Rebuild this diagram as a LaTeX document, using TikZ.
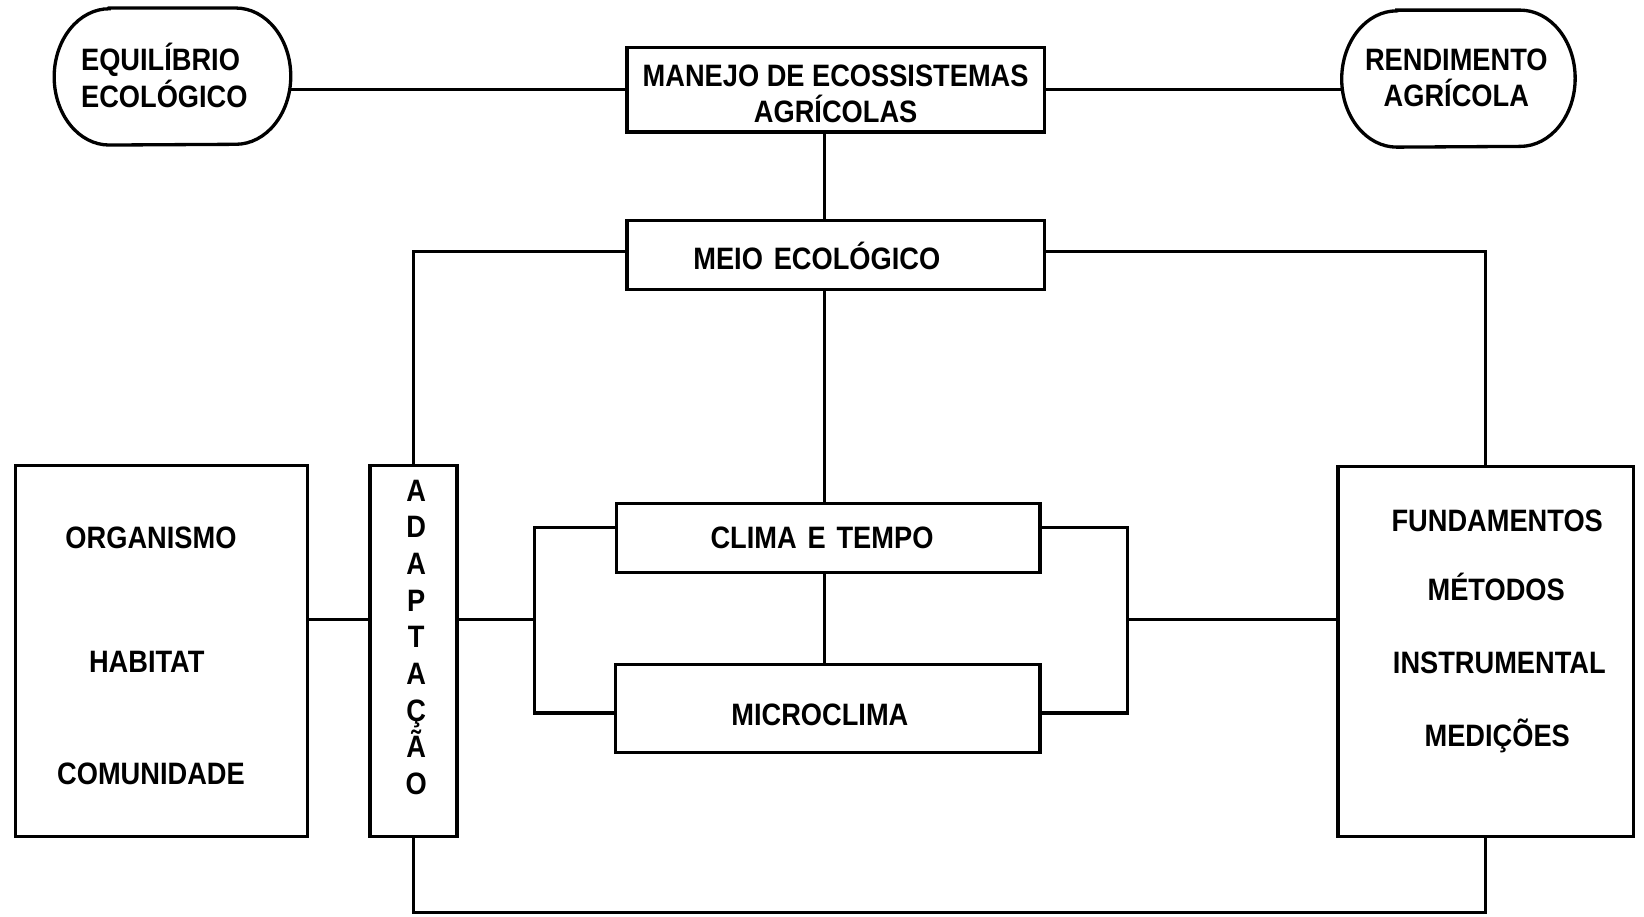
\documentclass[tikz,border=0pt]{standalone}
\usepackage{fontspec}
\newfontfamily\lettering{Liberation Sans}[FakeStretch=0.88]
\begin{document}
\begin{tikzpicture}[x=0.02cm,y=-0.02cm,
  every node/.style={font=\lettering\bfseries\fontsize{16.8}{20}\selectfont, inner sep=0pt},
  box/.style={draw, line width=1.8pt, rectangle},
  ovalbox/.style={rectangle},
  ovalline/.style={line width=1.8pt},
  txt/.style={align=center},
  conn/.style={line width=1.7pt}]
\useasboundingbox (0,0) rectangle (1568,874);

% boxes
\node[ovalbox, minimum width=4.5cm, minimum height=2.6cm] (eq) at (164.5,73) {};
\node[box, minimum width=7.96cm, minimum height=1.62cm] (man) at (797,85.5) {};
\node[ovalbox, minimum width=4.44cm, minimum height=2.6cm] (ren) at (1391,75) {};
\node[box, minimum width=7.96cm, minimum height=1.32cm] (meio) at (797,243) {};
\node[box, minimum width=5.56cm, minimum height=7.08cm] (org) at (154,621) {};
\node[box, minimum width=1.66cm, minimum height=7.08cm] (ada) at (394.5,621) {};
\node[box, minimum width=8.08cm, minimum height=1.32cm] (clima) at (790,513) {};
\node[box, minimum width=8.1cm, minimum height=1.68cm] (micro) at (789.5,676) {};
\node[box, minimum width=5.64cm, minimum height=7.06cm] (fund) at (1417,621.5) {};

% oval outlines
\foreach \n in {eq,ren}{
  \draw[ovalline] ([xshift=1.05cm]\n.north west) -- ([xshift=-1.05cm]\n.north east)
    arc[start angle=90,end angle=-90,x radius=1.05cm,y radius=1.3cm]
    -- ([xshift=1.05cm]\n.south west)
    arc[start angle=270,end angle=90,x radius=1.05cm,y radius=1.3cm] -- cycle;
}

% texts
\node[align=left, anchor=west, font=\lettering\bfseries\fontsize{16.8}{20.5}\selectfont] (eqt) at (77,72) {EQUILÍBRIO\\ECOLÓGICO};
\node[txt, font=\lettering\bfseries\fontsize{16.8}{20}\selectfont] (mant) at (797,89.5) {MANEJO DE ECOSSISTEMAS\\AGRÍCOLAS};
\node[txt, font=\lettering\bfseries\fontsize{16.8}{19.5}\selectfont] (rent) at (1389,74) {RENDIMENTO\\AGRÍCOLA};
\node (meiot) at (779,244) {MEIO\hspace{0.35em}ECOLÓGICO};
\node (org1) at (144,513) {ORGANISMO};
\node (org2) at (140,631) {HABITAT};
\node (org3) at (144,738) {COMUNIDADE};
\node[txt, font=\lettering\bfseries\fontsize{16.8}{19.9}\selectfont] (adat) at (397,608) {A\\D\\A\\P\\T\\A\\Ç\\Ã\\O};
\node (climat) at (784,513) {CLIMA\hspace{0.35em}E\hspace{0.35em}TEMPO};
\node (microt) at (782,682) {MICROCLIMA};
\node (f1) at (1428,497) {FUNDAMENTOS};
\node (f2) at (1427,560) {MÉTODOS};
\node (f3) at (1430,632) {INSTRUMENTAL};
\node (f4) at (1428,702) {MEDIÇÕES};

% helper coordinates
\coordinate (mid) at (0,591);
\coordinate (bl) at (510,591);
\coordinate (br) at (1075,591);
\coordinate (bot) at (0,870);
\coordinate (vx) at (786,0);

% connectors
\draw[conn] (eq.east |- man.west) -- (man.west);
\draw[conn] (man.east) -- (man.east -| ren.west);
\draw[conn] (man.south -| vx) -- (meio.north -| vx);
\draw[conn] ([yshift=0.06cm]meio.west) -| (ada.north);
\draw[conn] ([yshift=0.06cm]meio.east) -| (fund.north);
\draw[conn] (meio.south -| vx) -- (clima.north -| vx);
\draw[conn] (clima.south -| vx) -- (micro.north -| vx);
\draw[conn] (org.east |- mid) -- (ada.west |- mid);
\draw[conn] (ada.east |- mid) -- (bl);
\draw[conn] ([yshift=0.2cm]clima.west) -| (bl) |- ([yshift=-0.08cm]micro.west);
\draw[conn] ([yshift=0.2cm]clima.east) -| (br) |- ([yshift=-0.08cm]micro.east);
\draw[conn] (br) -- (fund.west |- mid);
\draw[conn] (ada.south) |- (bot -| fund.south) -- (fund.south);
\end{tikzpicture}
\end{document}
